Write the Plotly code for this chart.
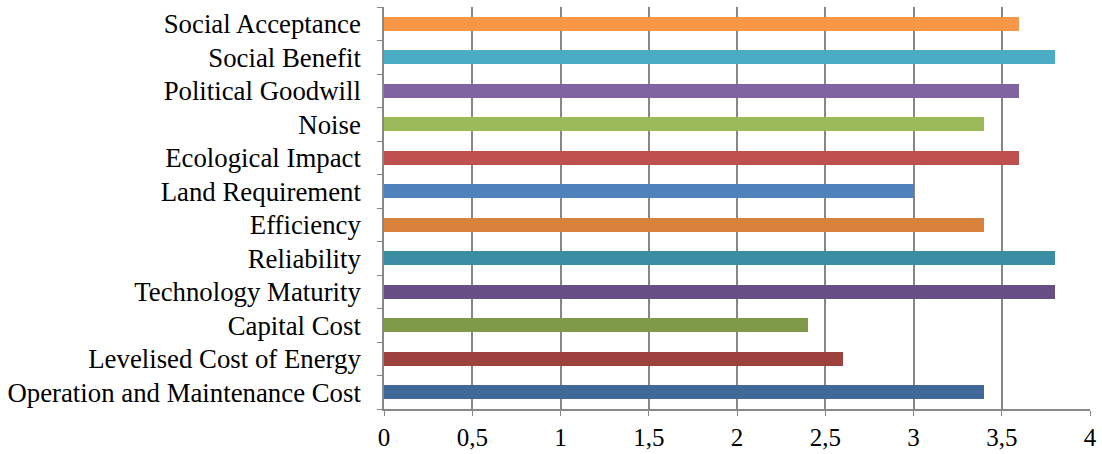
import plotly.graph_objects as go

# Criteria, listed bottom to top as drawn on the category axis
criteria = [
    "Operation and Maintenance Cost",
    "Levelised Cost of Energy",
    "Capital Cost",
    "Technology Maturity",
    "Reliability",
    "Efficiency",
    "Land Requirement",
    "Ecological Impact",
    "Noise",
    "Political Goodwill",
    "Social Benefit",
    "Social Acceptance",
]
scores = [3.4, 2.6, 2.4, 3.8, 3.8, 3.4, 3.0, 3.6, 3.4, 3.6, 3.8, 3.6]
bar_colors = [
    "#406898", "#9E413E", "#7F9A48", "#664F85", "#3A8DA3", "#D9823B",
    "#4F81BD", "#C0504D", "#9BBB59", "#8064A2", "#4BACC6", "#F79646",
]
x_ticks = [0, 0.5, 1, 1.5, 2, 2.5, 3, 3.5, 4]

fig = go.Figure(
    go.Bar(
        x=scores,
        y=criteria,
        orientation="h",
        marker=dict(color=bar_colors, line=dict(width=0)),
        width=0.42,
    )
)

font_family = "Liberation Serif"
axis_gray = "#878787"

fig.update_layout(
    width=1102,
    height=454,
    margin=dict(l=384, r=12, t=7, b=45, autoexpand=False),
    paper_bgcolor="white",
    plot_bgcolor="white",
    separators=", ",
    font=dict(family=font_family, size=26.8, color="black"),
    showlegend=False,
    bargap=0,
)

fig.update_xaxes(
    range=[0, 4],
    tickvals=x_ticks,
    tickformat=".1~f",
    showgrid=True,
    gridcolor=axis_gray,
    gridwidth=1.5,
    zeroline=False,
    showline=True,
    linecolor=axis_gray,
    linewidth=1.5,
    ticks="outside",
    ticklen=5,
    tickcolor=axis_gray,
    tickfont=dict(family=font_family, size=25),
    ticklabelstandoff=0,
    fixedrange=True,
)

fig.update_yaxes(
    type="category",
    categoryorder="array",
    categoryarray=criteria,
    showgrid=False,
    showline=True,
    linecolor=axis_gray,
    linewidth=1.5,
    ticks="outside",
    tickson="boundaries",
    ticklen=5,
    tickcolor=axis_gray,
    tickfont=dict(family=font_family, size=26.8),
    ticklabelstandoff=16,
    fixedrange=True,
)

fig.write_html("out.html")
